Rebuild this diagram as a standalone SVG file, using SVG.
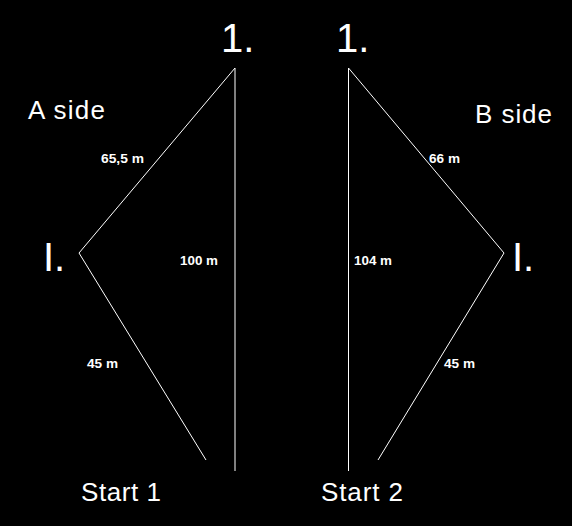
<svg xmlns="http://www.w3.org/2000/svg" width="572" height="526" viewBox="0 0 572 526">
<style>
.big{font-family:"Liberation Sans",Arial,sans-serif;font-size:40px;fill:#fff}
.mid{font-family:"Liberation Sans",Arial,sans-serif;font-size:26px;fill:#fff}
.sm{font-family:"Liberation Sans",Arial,sans-serif;font-size:12px;font-weight:bold;fill:#fff}
.ln{stroke:#fff;stroke-width:1;fill:none}
</style>
<rect width="572" height="526" fill="#000"/>
<g id="connectors">
<polyline class="ln" points="206,460 79,253 235,68 235,471"/>
<polyline class="ln" points="378,460 504,253 348.5,68 348.5,471"/>
</g>
<g id="top-left"><text class="big" x="221" y="52">1.</text></g>
<g id="top-right"><text class="big" x="336" y="52">1.</text></g>
<g id="a-side"><text class="mid" x="28" y="119" textLength="77">A side</text></g>
<g id="b-side"><text class="mid" x="475" y="123" textLength="77">B side</text></g>
<g id="mid-left"><text class="big" x="43" y="271">I.</text></g>
<g id="mid-right"><text class="big" x="512" y="271">I.</text></g>
<g id="start1"><text class="mid" x="81" y="501" textLength="80">Start 1</text></g>
<g id="start2"><text class="mid" x="321" y="501" textLength="82">Start 2</text></g>
<g id="labels">
<text class="sm" x="101" y="163" textLength="43" lengthAdjust="spacingAndGlyphs">65,5 m</text>
<text class="sm" x="180" y="265" textLength="38" lengthAdjust="spacingAndGlyphs">100 m</text>
<text class="sm" x="429" y="163" textLength="31" lengthAdjust="spacingAndGlyphs">66 m</text>
<text class="sm" x="354" y="265" textLength="38" lengthAdjust="spacingAndGlyphs">104 m</text>
<text class="sm" x="87" y="368" textLength="31" lengthAdjust="spacingAndGlyphs">45 m</text>
<text class="sm" x="444" y="368" textLength="31" lengthAdjust="spacingAndGlyphs">45 m</text>
</g>
</svg>
